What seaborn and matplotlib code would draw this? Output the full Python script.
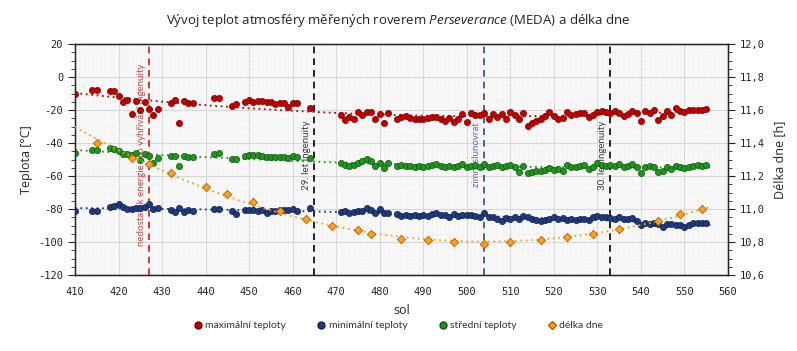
import matplotlib
matplotlib.use("Agg")
import matplotlib.pyplot as plt
import matplotlib.ticker as mticker
import matplotlib.transforms as mtrans
from matplotlib.lines import Line2D
import numpy as np
import pandas as pd
import seaborn as sns

# sols with temperature records
sol = [410, 414, 415,
       418, 419, 420, 421, 422, 423, 424, 425, 426, 427, 428, 429,
       432, 433, 434, 435, 436, 437,
       442, 443, 446, 447,
       449, 450, 451, 452, 453, 454, 455, 456, 457, 458, 459, 460, 461,
       464,
       471, 472, 473, 474, 475, 476, 477, 478, 479, 480, 481, 482,
       484, 485, 486, 487, 488, 489, 490, 491, 492, 493, 494, 495, 496, 497,
       498, 499, 500, 501, 502, 503, 504, 505, 506, 507, 508, 509, 510, 511,
       512, 513, 514, 515, 516, 517,
       518, 519, 520, 521, 522, 523, 524, 525, 526, 527, 528, 529, 530, 531,
       532, 533, 534, 535, 536, 537, 538, 539, 540, 541, 542, 543, 544, 545,
       546, 547, 548, 549, 550, 551, 552, 553, 554, 555]

t_max = [-10.3, -7.9, -7.9,
         -8.3, -8.3, -11.5, -15.0, -13.7, -22.4, -14.5, -20.0, -15.2, -19.4, -23.2, -19.4,
         -15.6, -14.1, -27.7, -14.3, -16.0, -16.0,
         -12.7, -12.7, -17.8, -16.2,
         -15.4, -14.1, -15.2, -14.5, -14.8, -15.0, -15.2, -16.4, -15.6, -15.6, -18.0, -15.8, -15.8,
         -18.6,
         -23.2, -26.0, -24.0, -25.6, -21.2, -23.2, -21.0, -21.0, -25.6, -22.4, -28.0, -21.6,
         -25.6, -24.4, -23.6, -25.0, -25.5, -25.6, -25.2, -25.0, -24.2, -24.4, -25.2, -26.4, -24.6, -27.4,
         -25.6, -22.4, -27.3, -22.0, -22.8, -23.0, -22.0, -25.6, -22.4, -24.4, -22.4, -25.6, -21.2, -23.2,
         -25.6, -21.6, -29.7, -27.7, -26.9, -25.6,
         -23.7, -21.0, -23.6, -25.6, -24.6, -21.0, -23.0, -22.4, -22.0, -21.6, -24.4, -23.0, -21.0, -20.6,
         -21.0, -21.6, -20.4, -21.6, -23.6, -22.4, -20.4, -21.6, -26.4, -20.4, -21.6, -20.0, -26.0, -23.6,
         -20.4, -23.0, -19.0, -20.4, -21.0, -20.2, -19.8, -19.8, -19.8, -19.2]

t_min = [-81.0, -81.0, -81.0,
         -78.6, -78.2, -77.0, -78.6, -80.2, -80.2, -79.6, -79.6, -78.6, -77.2, -80.2, -79.6,
         -80.6, -81.6, -79.6, -81.6, -80.6, -81.2,
         -80.2, -80.2, -81.0, -83.0,
         -80.6, -80.6, -80.6, -81.2, -80.6, -82.2, -81.4, -81.0, -80.6, -80.6, -80.6, -80.2, -81.2,
         -79.6,
         -81.6, -81.0, -82.6, -81.6, -81.2, -81.0, -79.6, -80.6, -82.2, -80.2, -82.2, -82.2,
         -83.0, -84.2, -83.6, -84.2, -83.8, -84.2, -83.8, -84.2, -83.0, -82.6, -83.8, -83.4, -85.0, -83.0,
         -84.2, -83.8, -83.6, -83.8, -84.2, -85.0, -82.6, -84.6, -84.6, -86.3, -87.0, -85.5, -85.9, -85.0,
         -86.3, -84.2, -85.0, -85.9, -86.7, -87.5,
         -86.7, -85.9, -85.0, -85.9, -85.5, -86.7, -85.9, -86.7, -85.9, -86.3, -86.7, -84.6, -84.2, -85.0,
         -85.0, -85.5, -85.9, -85.0, -85.9, -85.9, -85.5, -87.0, -89.7, -88.7, -89.1, -88.7, -89.1, -91.1,
         -89.3, -89.1, -89.7, -89.7, -91.1, -89.7, -88.7, -88.3, -88.7, -88.7]

t_mean = [-45.9, -44.2, -44.2,
          -43.2, -43.8, -44.7, -46.7, -46.7, -47.3, -46.3, -50.3, -46.7, -47.9, -52.3, -49.3,
          -47.9, -47.9, -54.0, -47.9, -48.3, -48.7,
          -46.7, -45.9, -49.9, -49.9,
          -47.9, -47.5, -47.5, -47.5, -47.9, -48.3, -48.7, -48.7, -48.7, -48.7, -49.3, -47.9, -48.7,
          -49.3,
          -52.3, -53.3, -53.9, -53.3, -52.3, -50.7, -49.9, -50.7, -53.9, -51.9, -55.3, -51.9,
          -53.9, -53.3, -53.9, -53.9, -54.4, -53.9, -54.4, -53.9, -53.5, -52.7, -53.9, -54.7, -53.9, -54.4,
          -53.9, -52.7, -54.7, -53.9, -53.5, -54.4, -52.7, -54.7, -53.9, -53.5, -54.7, -53.9, -53.3, -54.4,
          -57.4, -53.9, -58.0, -57.4, -56.8, -56.8,
          -56.4, -55.3, -56.4, -55.9, -56.8, -53.3, -54.4, -54.7, -53.9, -53.5, -55.9, -54.7, -52.3, -53.3,
          -53.9, -53.3, -53.9, -52.7, -54.4, -53.9, -52.7, -54.7, -58.0, -54.4, -53.9, -54.4, -57.4, -56.8,
          -54.4, -55.9, -53.9, -54.7, -55.3, -54.4, -53.9, -53.5, -53.9, -53.5]

# day length
sol_day = [415, 423, 427, 432, 440, 445, 451, 457, 463, 469, 475, 478,
           485, 491, 497, 504, 510, 517, 523, 529, 535, 544, 549, 554]
day_len = [11.40, 11.31, 11.27, 11.22, 11.135, 11.09, 11.04, 10.99, 10.94, 10.90, 10.87, 10.85,
           10.82, 10.81, 10.80, 10.79, 10.80, 10.81, 10.83, 10.85, 10.88, 10.93, 10.97, 11.00]

# events (sol, label)
events = [(427, "nedostatek energie pro vyhřívání Ingenuity"),
          (465, "29. let Ingenuity"),
          (504, "zimní slunovrat"),
          (533, "30. let Ingenuity")]
event_colors = ["#d01818", "#000000", "#2c4a8c", "#000000"]
event_text_colors = ["#c44848", "#3a3a3a", "#5570a8", "#3a3a3a"]

df = pd.DataFrame({"sol": sol, "max": t_max, "min": t_min, "mean": t_mean})
dl = pd.DataFrame({"sol": sol_day, "day": day_len})

sns.set_style("white")
plt.rcParams["font.family"] = ["Open Sans", "DejaVu Sans"]
plt.rcParams["axes.unicode_minus"] = False
plt.rcParams["mathtext.fontset"] = "custom"
plt.rcParams["mathtext.it"] = "Open Sans:italic"
plt.rcParams["mathtext.rm"] = "Open Sans"

fig = plt.figure(figsize=(7.97, 3.51), dpi=100)
ax = fig.add_axes([0.0941, 0.2165, 0.8193, 0.658])
ax.set_facecolor("#f8f8f8")

red, red_e = "#c00000", "#7a0000"
blue, blue_e = "#1f3a7e", "#0e1f4a"
green, green_e = "#1e961e", "#0c550c"
orange, orange_e = "#f7a21e", "#b85a00"

# event lines + texts
trans = mtrans.blended_transform_factory(ax.transData, ax.transAxes)
for (s, lab), c, tc in zip(events, event_colors, event_text_colors):
    ax.axvline(s, color=c, ls=(0, (4, 3)), lw=1.2, zorder=2)
    ax.text(s - 0.7, 0.52, lab, transform=trans, rotation=90, ha="right", va="center",
            fontsize=7, color=tc, family="Lato", zorder=2.5)

# trend lines
x_fit = np.linspace(410, 556, 200)
for col, c in [("max", red), ("min", blue), ("mean", green)]:
    p = np.polyfit(df["sol"], df[col], 2)
    sns.lineplot(x=x_fit, y=np.polyval(p, x_fit), ax=ax, color=c, ls=(0, (1, 2)), lw=1.3, zorder=3)

for col, c, ec in [("max", red, red_e), ("min", blue, blue_e), ("mean", green, green_e)]:
    sns.scatterplot(data=df, x="sol", y=col, ax=ax, color=c, edgecolor=ec, s=20,
                    linewidth=0.5, zorder=4)

ax.set_xlim(410, 560)
ax.set_ylim(-120, 20)
ax.xaxis.set_major_locator(mticker.MultipleLocator(10))
ax.xaxis.set_minor_locator(mticker.MultipleLocator(1))
ax.yaxis.set_major_locator(mticker.MultipleLocator(20))
ax.yaxis.set_minor_locator(mticker.MultipleLocator(5))
ax.grid(which="major", color="#d6d6d6", lw=0.8)
ax.grid(which="minor", color="#f0f0f0", lw=0.5)
ax.set_axisbelow(True)
ax.tick_params(which="major", length=5, width=0.8, labelsize=7.5, colors="#222222")
ax.tick_params(which="minor", length=3, width=0.6)
for lbl in ax.get_xticklabels() + ax.get_yticklabels():
    lbl.set_family("DejaVu Sans Mono")
ax.set_xlabel("sol", fontsize=9, labelpad=5)
ax.set_ylabel("Teplota [°C]", fontsize=9, labelpad=4)
for sp in ax.spines.values():
    sp.set_color("#000000")
    sp.set_linewidth(1.0)

ax2 = ax.twinx()
p = np.polyfit(dl["sol"], dl["day"], 2)
sns.lineplot(x=x_fit, y=np.polyval(p, x_fit), ax=ax2, color="#e0a828", ls=(0, (1, 2)), lw=1.3, zorder=3)
sns.scatterplot(data=dl, x="sol", y="day", ax=ax2, color=orange, edgecolor=orange_e, marker="D",
                s=18, linewidth=0.6, zorder=4)
ax2.set_ylim(10.6, 12.0)
ax2.yaxis.set_major_locator(mticker.MultipleLocator(0.2))
ax2.yaxis.set_minor_locator(mticker.MultipleLocator(0.05))
ax2.yaxis.set_major_formatter(mticker.FuncFormatter(lambda v, _: f"{v:.1f}".replace(".", ",")))
ax2.tick_params(which="major", length=5, width=0.8, labelsize=7.5, colors="#222222")
ax2.tick_params(which="minor", length=3, width=0.6)
for lbl in ax2.get_yticklabels():
    lbl.set_family("DejaVu Sans Mono")
ax2.set_ylabel("Délka dne [h]", fontsize=9, labelpad=6)
ax2.set_xlabel("")

fig.suptitle(r"Vývoj teplot atmosféry měřených roverem $\it{Perseverance}$ (MEDA) a délka dne",
             fontsize=9.5, y=0.965, color="#222222")

handles = [
    Line2D([], [], ls="", marker="o", color=red, markeredgecolor=red_e, markersize=5),
    Line2D([], [], ls="", marker="o", color=blue, markeredgecolor=blue_e, markersize=5),
    Line2D([], [], ls="", marker="o", color=green, markeredgecolor=green_e, markersize=5),
    Line2D([], [], ls="", marker="D", color=orange, markeredgecolor=orange_e, markersize=4.5),
]
labels = ["maximální teploty", "minimální teploty", "střední teploty", "délka dne"]
fig.legend(handles, labels, loc="center", bbox_to_anchor=(0.5, 0.072), ncol=4, frameon=False,
           prop={"family": "Lato", "size": 7.5}, handlelength=0.8, handletextpad=0.3,
           columnspacing=3.0, labelcolor="#333333")

fig.savefig("out.png", dpi=100)
